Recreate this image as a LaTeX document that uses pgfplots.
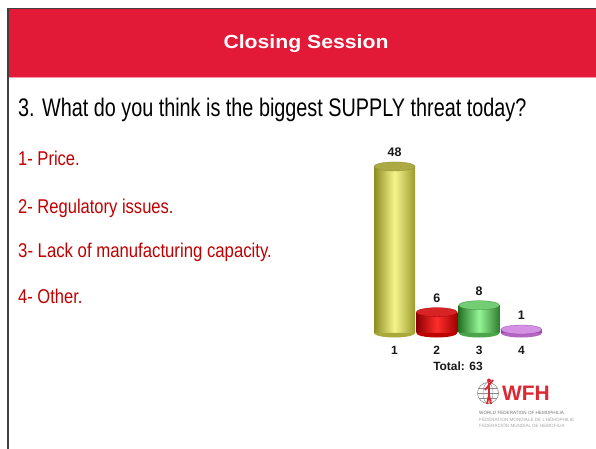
\documentclass[border=0pt]{standalone}
\usepackage{pgfplots}
\pgfplotsset{compat=1.18}
\usepackage{fontspec}
\setmainfont{Liberation Sans}
\usepackage{graphicx}
\definecolor{slidered}{RGB}{226,25,55}
\definecolor{itemred}{RGB}{192,0,0}
\definecolor{wfhred}{RGB}{220,40,50}
\pgfdeclareplotmark{lowerhalf}{%
  \pgfpathmoveto{\pgfqpoint{-\pgfplotmarksize}{0pt}}%
  \pgfpatharc{180}{360}{\pgfplotmarksize}%
  \pgfpathclose
  \pgfusepathqfill}
\begin{document}
\begin{tikzpicture}[x=1bp,y=1bp]
\path[use as bounding box] (0,0) rectangle (596,449);
\fill[white] (0,0) rectangle (596,449);
% header band
\fill[slidered] (8,372) rectangle (596,440);
\fill[slidered!45] (8,371) rectangle (596,372.2);
\draw[black!75,line width=1.2bp] (8,0) -- (8,440.5) -- (596,440.5);
\node[white,font=\bfseries\fontsize{19}{19}\selectfont] at (306,405) {\scalebox{1.12}[1]{Closing Session}};
% question
\node[anchor=base west,inner sep=0pt,font=\fontsize{25.5}{25.5}\selectfont] at (18,332) {\scalebox{0.78}[1]{3. What do you think is the biggest SUPPLY threat today?}};
% items
\begin{scope}[every node/.style={anchor=base west,inner sep=0pt,text=itemred,font=\fontsize{20}{20}\selectfont}]
\node at (18,283) {\scalebox{0.83}[1]{1- Price.}};
\node at (18,235.5) {\scalebox{0.83}[1]{2- Regulatory issues.}};
\node at (18,191) {\scalebox{0.84}[1]{3- Lack of manufacturing capacity.}};
\node at (18,145) {\scalebox{0.83}[1]{4- Other.}};
\end{scope}
% chart
\begin{axis}[
  at={(352.2bp,98.65bp)}, anchor=south west,
  scale only axis, width=211.5bp, height=208.2bp,
  xmin=0, xmax=5, ymin=-5, ymax=55,
  axis line style={draw=none}, major tick length=0pt,
  ytick=\empty, xtick={1,2,3,4}, xticklabels={1,2,3,4},
  xticklabel style={font=\bfseries\fontsize{12}{12}\selectfont, anchor=center, text=black!90},
  xlabel={Total: 63},
  xlabel style={at={(axis description cs:0.5,0)}, anchor=center, yshift=-15.6bp, font=\bfseries\fontsize{12}{12}\selectfont, text=black!90},
  clip=false,
  /pgf/number format/assume math mode=true,
  nodes near coords style={font=\bfseries\fontsize{12.5}{12.5}\selectfont, anchor=center, yshift=14bp, text=black!90},
]
% bottom half-ellipses
\addplot[only marks, mark=lowerhalf, mark size=20.5bp, mark options={yscale=0.22, fill={rgb,255:red,170;green,170;blue,60}}] coordinates {(1,0)};
\addplot[only marks, mark=lowerhalf, mark size=20.5bp, mark options={yscale=0.22, fill={rgb,255:red,190;green,0;blue,0}}] coordinates {(2,0)};
\addplot[only marks, mark=lowerhalf, mark size=20.5bp, mark options={yscale=0.22, fill={rgb,255:red,75;green,165;blue,75}}] coordinates {(3,0)};
\addplot[only marks, mark=lowerhalf, mark size=20.5bp, mark options={yscale=0.22, fill={rgb,255:red,180;green,100;blue,195}}] coordinates {(4,0)};
% bodies
\addplot[ybar, bar width=41bp, bar shift=0pt, draw=none, left color={rgb,255:red,140;green,140;blue,35}, right color={rgb,255:red,155;green,155;blue,45}, middle color={rgb,255:red,245;green,245;blue,140}] coordinates {(1,48)};
\addplot[ybar, bar width=41bp, bar shift=0pt, draw=none, left color={rgb,255:red,140;green,0;blue,0}, right color={rgb,255:red,160;green,0;blue,0}, middle color={rgb,255:red,255;green,45;blue,45}] coordinates {(2,6)};
\addplot[ybar, bar width=41bp, bar shift=0pt, draw=none, left color={rgb,255:red,35;green,115;blue,35}, right color={rgb,255:red,45;green,125;blue,45}, middle color={rgb,255:red,150;green,245;blue,150}] coordinates {(3,8)};
\addplot[ybar, bar width=41bp, bar shift=0pt, draw=none, left color={rgb,255:red,130;green,55;blue,150}, right color={rgb,255:red,145;green,65;blue,165}, middle color={rgb,255:red,235;green,160;blue,245}] coordinates {(4,1)};
% tops with value labels
\addplot[only marks, mark=*, mark size=20.5bp, mark options={yscale=0.22, draw={rgb,255:red,140;green,140;blue,50}, line width=0.3bp, fill={rgb,255:red,172;green,170;blue,68}}, nodes near coords] coordinates {(1,48)};
\addplot[only marks, mark=*, mark size=20.5bp, mark options={yscale=0.22, draw={rgb,255:red,170;green,0;blue,0}, line width=0.3bp, fill={rgb,255:red,215;green,35;blue,35}}, nodes near coords] coordinates {(2,6)};
\addplot[only marks, mark=*, mark size=20.5bp, mark options={yscale=0.22, draw={rgb,255:red,60;green,140;blue,60}, line width=0.3bp, fill={rgb,255:red,115;green,205;blue,115}}, nodes near coords] coordinates {(3,8)};
\addplot[only marks, mark=*, mark size=20.5bp, mark options={yscale=0.22, draw={rgb,255:red,150;green,70;blue,170}, line width=0.3bp, fill={rgb,255:red,212;green,145;blue,228}}, nodes near coords] coordinates {(4,1)};
\end{axis}
% WFH logo
\begin{scope}[shift={(488,56)}]
\draw[black!45,line width=0.6bp] (0,0) circle (10.5);
\draw[black!45,line width=0.4bp] (0,0) ellipse (5 and 10.5);
\draw[black!45,line width=0.4bp] (-10.5,0) -- (10.5,0) (-9,5) -- (9,5) (-9,-5) -- (9,-5);
\fill[wfhred] (1,12.5) circle (2);
\draw[wfhred,line width=1.8bp] (1,10) -- (1,-2) (1,-2) -- (-1,-11) (1,-2) -- (3,-11) (1,8) -- (-3,3) (1,8) -- (5,13);
\end{scope}
\node[anchor=base west,inner sep=0pt,text=wfhred,font=\bfseries\fontsize{21}{21}\selectfont] at (502,48) {WFH};
\begin{scope}[every node/.style={anchor=base west,inner sep=0pt,text=black!55,font=\fontsize{4.6}{4.6}\selectfont}]
\node at (479,34) {WORLD FEDERATION OF HEMOPHILIA};
\node[text=black!35] at (479,27.5) {FÉDÉRATION MONDIALE DE L'HÉMOPHILIE};
\node[text=black!35] at (479,21) {FEDERACIÓN MUNDIAL DE HEMOFILIA};
\end{scope}
\end{tikzpicture}
\end{document}
